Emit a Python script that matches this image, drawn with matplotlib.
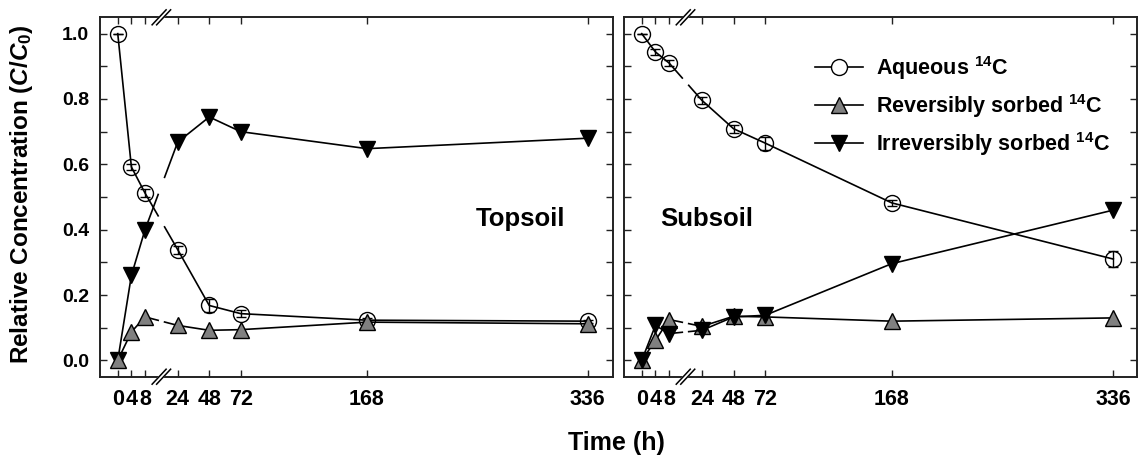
import numpy as np
import matplotlib
matplotlib.use("Agg")
import matplotlib.pyplot as plt
from matplotlib.ticker import FixedLocator, MultipleLocator, FormatStrFormatter
from matplotlib.lines import Line2D

plt.rcParams['font.family'] = ['Liberation Sans', 'DejaVu Sans']
plt.rcParams['font.weight'] = 'bold'
plt.rcParams['mathtext.fontset'] = 'custom'
plt.rcParams['mathtext.rm'] = 'Liberation Sans:bold'
plt.rcParams['mathtext.bf'] = 'Liberation Sans:bold'
plt.rcParams['mathtext.it'] = 'Liberation Sans:italic:bold'

# ---------------- data ----------------
time_h = [0, 4, 8, 24, 48, 72, 168, 336]
xtick_labels = ['0', '4', '8', '24', '48', '72', '168', '336']

top_aqueous = [1.00, 0.592, 0.512, 0.339, 0.168, 0.143, 0.123, 0.120]
top_aqueous_err = [0.0, 0.008, 0.012, 0.012, 0.02, 0.01, 0.006, 0.005]
top_reversible = [0.0, 0.087, 0.133, 0.107, 0.092, 0.094, 0.117, 0.112]
top_irreversible = [0.0, 0.26, 0.40, 0.668, 0.745, 0.70, 0.648, 0.68]

sub_aqueous = [1.00, 0.944, 0.910, 0.796, 0.709, 0.665, 0.482, 0.310]
sub_aqueous_err = [0.0, 0.01, 0.01, 0.01, 0.012, 0.02, 0.01, 0.025]
sub_reversible = [0.0, 0.061, 0.125, 0.104, 0.135, 0.133, 0.12, 0.13]
sub_irreversible = [0.0, 0.107, 0.082, 0.092, 0.133, 0.138, 0.296, 0.46]

series_labels = [r'Aqueous $^{\mathbf{14}}$C',
                 r'Reversibly sorbed $^{\mathbf{14}}$C',
                 r'Irreversibly sorbed $^{\mathbf{14}}$C']

# ---------------- broken-axis scale ----------------
XB = np.array([0.0, 8.0, 24.0, 336.0])
TB = np.array([0.0, 27.3, 60.0, 470.5])
S0 = (TB[1] - TB[0]) / (XB[1] - XB[0])
S1 = (TB[3] - TB[2]) / (XB[3] - XB[2])


def fwd(x):
    x = np.asarray(x, dtype=float)
    return np.where(x < XB[0], TB[0] + (x - XB[0]) * S0,
                    np.where(x > XB[-1], TB[-1] + (x - XB[-1]) * S1,
                             np.interp(x, XB, TB)))


def inv(t):
    t = np.asarray(t, dtype=float)
    return np.where(t < TB[0], XB[0] + (t - TB[0]) / S0,
                    np.where(t > TB[-1], XB[-1] + (t - TB[-1]) / S1,
                             np.interp(t, TB, XB)))


T_BREAK = 0.5 * (TB[1] + TB[2])
GAP = 3.2

fig = plt.figure(figsize=(11.38, 4.57), dpi=100)
ax1 = fig.add_axes([0.0879, 0.1757, 0.4508, 0.7864])
ax2 = fig.add_axes([0.5486, 0.1757, 0.4501, 0.7864])

LW = 1.2
MS = 11.5


def draw_series(ax, y, marker, face, err=None, z=3):
    x = np.array(time_h, float)
    y = np.array(y, float)
    t = fwd(x)
    i8, i24 = 2, 3
    tl, tr = T_BREAK - GAP, T_BREAK + GAP
    yl = np.interp(tl, [t[i8], t[i24]], [y[i8], y[i24]])
    yr = np.interp(tr, [t[i8], t[i24]], [y[i8], y[i24]])
    xa = list(x[:i8 + 1]) + [float(inv(tl))]
    ya = list(y[:i8 + 1]) + [yl]
    xb = [float(inv(tr))] + list(x[i24:])
    yb = [yr] + list(y[i24:])
    ax.plot(xa, ya, color='black', lw=LW, zorder=z)
    ax.plot(xb, yb, color='black', lw=LW, zorder=z)
    if err is not None:
        ax.errorbar(x, y, yerr=err, fmt='none', ecolor='black', elinewidth=1.0,
                    capsize=3.5, capthick=1.0, zorder=z + 0.2)
    ax.plot(x, y, linestyle='none', marker=marker, markersize=MS,
            markerfacecolor=face, markeredgecolor='black', markeredgewidth=1.0,
            zorder=z + 0.1)


def style_axes(ax, xlim, show_ylabels):
    ax.set_xscale('function', functions=(fwd, inv))
    ax.set_xlim(*xlim)
    ax.set_ylim(-0.05, 1.05)
    ax.xaxis.set_major_locator(FixedLocator(time_h))
    ax.set_xticklabels(xtick_labels)
    ax.yaxis.set_major_locator(MultipleLocator(0.2))
    ax.yaxis.set_minor_locator(MultipleLocator(0.1))
    ax.xaxis.set_minor_locator(FixedLocator([]))
    ax.tick_params(axis='both', which='both', direction='in', length=5, width=1.0,
                   top=True, right=True, color='#222222')
    ax.tick_params(axis='x', which='major', pad=9, labelsize=15.5)
    ax.tick_params(axis='y', which='major', pad=8, labelsize=14)
    for lab in ax.get_xticklabels() + ax.get_yticklabels():
        lab.set_fontweight('bold')
    if not show_ylabels:
        ax.tick_params(axis='y', labelleft=False)
    else:
        ax.yaxis.set_major_formatter(FormatStrFormatter('%.1f'))
    for s in ax.spines.values():
        s.set_linewidth(1.4)
        s.set_color('#222222')


def draw_break_marks(ax):
    xb = float(inv(T_BREAK))
    px, _ = ax.transData.transform((xb, 0.0))
    xa, _ = ax.transAxes.inverted().transform((px, 0.0))
    bb = ax.get_window_extent()
    dx = 7.0 / bb.width
    dy = 7.5 / bb.height
    sep = 4.5 / bb.width
    for yc in (0.0, 1.0):
        ax.fill([xa - sep / 2 - dx, xa - sep / 2 + dx, xa + sep / 2 + dx, xa + sep / 2 - dx],
                [yc - dy, yc + dy, yc + dy, yc - dy], transform=ax.transAxes,
                color='white', clip_on=False, zorder=10)
        for off in (-sep / 2, sep / 2):
            ax.plot([xa + off - dx, xa + off + dx], [yc - dy, yc + dy],
                    transform=ax.transAxes, color='black', lw=1.1,
                    clip_on=False, zorder=11)


# left panel: topsoil
draw_series(ax1, top_aqueous, 'o', 'none', err=top_aqueous_err, z=3)
draw_series(ax1, top_irreversible, 'v', 'black', z=4)
draw_series(ax1, top_reversible, '^', '#808080', z=5)
style_axes(ax1, (-5.2, 355.2), True)
ax1.text(0.82, 0.44, 'Topsoil', transform=ax1.transAxes, fontsize=18.5,
         fontweight='bold', ha='center', va='center')

# right panel: subsoil
draw_series(ax2, sub_aqueous, 'o', 'none', err=sub_aqueous_err, z=3)
draw_series(ax2, sub_reversible, '^', '#808080', z=4)
draw_series(ax2, sub_irreversible, 'v', 'black', z=5)
style_axes(ax2, (-5.1, 353.6), False)
ax2.text(0.07, 0.44, 'Subsoil', transform=ax2.transAxes, fontsize=18.5,
         fontweight='bold', ha='left', va='center')

# legend
handles = [
    Line2D([], [], color='black', lw=LW, marker='o', markersize=MS,
           markerfacecolor='white', markeredgecolor='black'),
    Line2D([], [], color='black', lw=LW, marker='^', markersize=MS,
           markerfacecolor='#808080', markeredgecolor='black'),
    Line2D([], [], color='black', lw=LW, marker='v', markersize=MS,
           markerfacecolor='black', markeredgecolor='black'),
]
leg = ax2.legend(handles, series_labels, loc='upper left',
                 bbox_to_anchor=(0.355, 0.922), frameon=False, fontsize=15.5,
                 handlelength=2.25, handletextpad=0.6, labelspacing=0.47,
                 borderaxespad=0.0)
for txt in leg.get_texts():
    txt.set_fontweight('bold')

fig.canvas.draw()
draw_break_marks(ax1)
draw_break_marks(ax2)

fig.text(0.019, 0.5757, r'Relative Concentration ($\mathit{C/C_0}$)', rotation=90,
         fontsize=17.5, fontweight='bold', ha='center', va='center')
fig.text(0.542, 0.03, 'Time (h)', fontsize=18, fontweight='bold',
         ha='center', va='center')

fig.savefig('out.png', dpi=100)
